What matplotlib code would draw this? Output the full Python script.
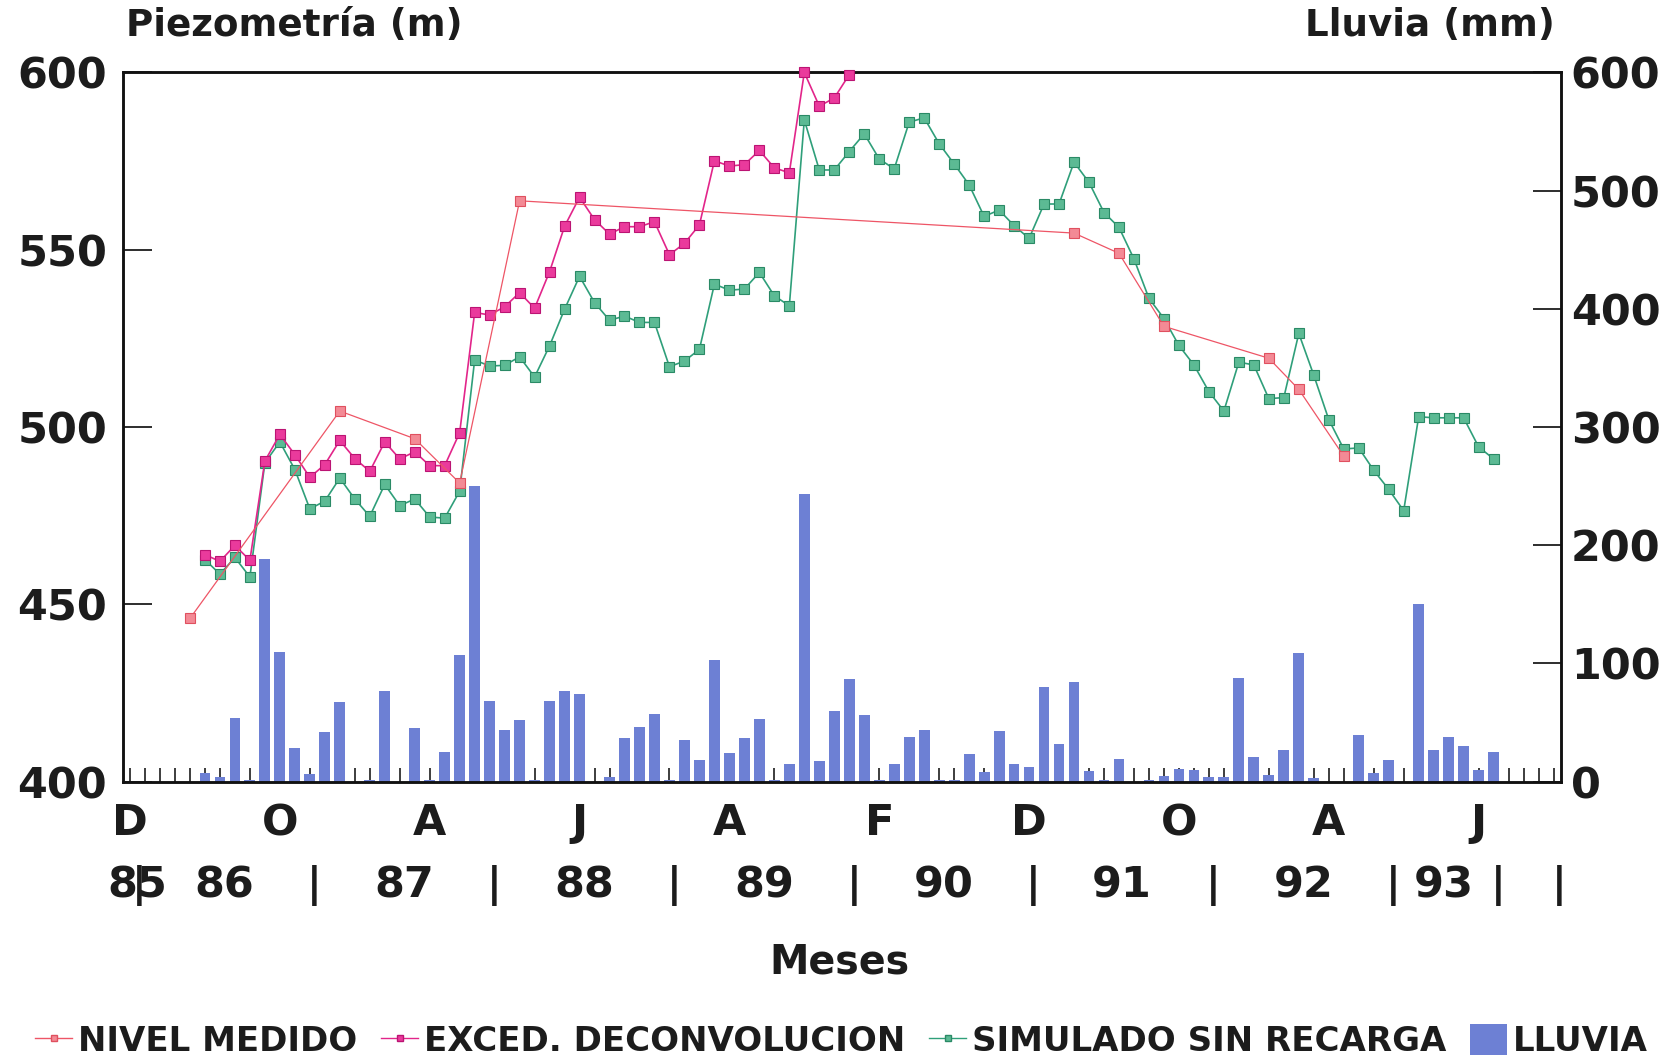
import matplotlib
matplotlib.use('Agg')
import matplotlib.pyplot as plt
import numpy as np
from matplotlib.lines import Line2D
from matplotlib.patches import Patch
from matplotlib import transforms

plt.rcParams['font.family'] = ['DejaVu Sans']
plt.rcParams['font.weight'] = 'bold'

# ---------------- data ----------------
# month index 0 = Dec 1985 (one category per month, 96 months)
n_months = 96
month_tick_pos = [0, 10, 20, 30, 40, 50, 60, 70, 80, 90]
month_tick_labels = ['D', 'O', 'A', 'J', 'A', 'F', 'D', 'O', 'A', 'J']

# rainfall (mm) per month index 0..95
lluvia = [0, 0, 0, 0, 0, 7, 4, 54, 1, 188,
          110, 28, 6, 42, 67, 0, 1.5, 77, 0, 45,
          1, 25, 107, 250, 68, 44, 52, 1, 68, 77,
          74, 0, 4, 37, 46, 57, 1, 35, 18, 103,
          24, 37, 53, 1, 15, 243, 17, 60, 87, 56,
          1, 15, 38, 44, 1, 1, 23, 8, 43, 15,
          12, 80, 32, 84, 9, 1, 19, 0, 1, 5,
          11, 10, 4, 3.5, 88, 21, 5.5, 26.5, 109, 3,
          0, 0, 39, 7.5, 18, 0, 150, 27, 38, 30,
          9.5, 25, 0, 0, 0, 0]

# measured level (m)
nivel_mes = [4, 14, 19, 22, 26, 63, 66, 69, 76, 78, 81]
nivel_val = [446.0, 504.5, 496.7, 484.2, 563.8, 554.7, 549.0, 528.4, 519.4, 510.6, 491.8]

# deconvolution excess (m), months 5..48
exced_start = 5
exced_val = [464.0, 462.1, 466.6, 462.4, 490.4, 497.9, 492.2, 485.8, 489.4, 496.2,
             491.1, 487.5, 495.8, 491.0, 493.0, 489.1, 489.1, 498.4,
             532.3, 531.6, 533.9, 537.9, 533.5, 543.8, 556.6, 564.8, 558.5, 554.4,
             556.5, 556.5, 557.9, 548.6, 551.8, 557.0, 575.1, 573.6, 574.0, 578.0,
             573.1, 571.7, 600.0, 590.5, 592.8, 599.4]

# simulated without recharge (m), months 5..91
simul_start = 5
simul_val = [462.6, 458.5, 463.2, 457.7, 489.9, 495.8, 488.0, 476.9, 479.1, 485.6,
             479.7, 474.8, 483.8, 477.8, 479.7, 474.6, 474.3, 481.9,
             518.9, 517.2, 517.4, 519.8, 514.1, 522.9, 533.2, 542.5, 535.1, 530.1,
             531.3, 529.5, 529.5, 517.0, 518.6, 521.9, 540.3, 538.6, 538.9, 543.6,
             537.0, 534.2,
             586.6, 572.5, 572.5, 577.7, 582.7, 575.6, 572.8, 586.0, 587.2, 579.9,
             574.2, 568.3, 559.4, 561.2, 556.8, 553.2, 562.9, 562.9, 574.7, 569.0,
             560.5, 556.3, 547.4, 536.3, 530.6, 523.0, 517.5, 510.0, 504.5, 518.3,
             517.5, 508.0, 508.3, 526.4, 514.6, 502.1, 493.8, 494.1, 487.8, 482.4,
             476.4, 502.9, 502.6, 502.6, 502.6, 494.4, 491.0]

# year row of the x axis: text and its position in month units
year_txt = ['85', '|', '86', '|', '87', '|', '88', '|', '89', '|', '90', '|',
            '91', '|', '92', '|', '93', '|', '|']
year_pos = [0.5, 0.62, 6.3, 12.3, 18.3, 24.3, 30.3, 36.3, 42.3, 48.3, 54.3, 60.3,
            66.2, 72.3, 78.3, 84.3, 87.7, 91.3, 95.4]

# ---------------- style ----------------
txt = '#1c1c1c'
bar_c = '#6d80d4'
red_l, red_f, red_e = '#ee5566', '#f38a95', '#e0505f'
mag_l, mag_f, mag_e = '#e2258a', '#ea3a9c', '#bb1473'
grn_l, grn_f, grn_e = '#2f9f7a', '#5cba94', '#2a8a66'

fig = plt.figure(figsize=(16.76, 10.58), dpi=100)
ax = fig.add_axes([0.0731, 0.2613, 0.8583, 0.6702])
tw = ax.twinx()

# bars (rain) on back axis
x_all = np.arange(n_months)
ax.bar(x_all, lluvia, width=0.72, color=bar_c, zorder=1)
ax.set_ylim(0, 600)
ax.set_xlim(-0.5, n_months - 0.5)
ax.set_axisbelow(True)

# lines on front axis
xs = np.arange(simul_start, simul_start + len(simul_val))
tw.plot(xs, simul_val, color=grn_l, lw=1.2, marker='s', ms=6.5, mfc=grn_f, mec=grn_e,
        mew=0.8, clip_on=False, zorder=3)
xe = np.arange(exced_start, exced_start + len(exced_val))
tw.plot(xe, exced_val, color=mag_l, lw=1.2, marker='s', ms=6.5, mfc=mag_f, mec=mag_e,
        mew=0.8, clip_on=False, zorder=4)
tw.plot(nivel_mes, nivel_val, color=red_l, lw=0.9, marker='s', ms=6.5, mfc=red_f, mec=red_e,
        mew=0.8, clip_on=False, zorder=5)
tw.set_ylim(400, 600)

# axes placement of y ticks
ax.yaxis.set_ticks_position('right')
tw.yaxis.set_ticks_position('left')
ax.set_yticks([0, 100, 200, 300, 400, 500, 600])
tw.set_yticks([400, 450, 500, 550, 600])
ax.tick_params(axis='y', direction='in', length=20, width=1.3, labelsize=31,
               pad=7, colors=txt, labelright=True, labelleft=False)
tw.tick_params(axis='y', direction='in', length=21, width=1.3, labelsize=31,
               pad=11, colors=txt, labelleft=True, labelright=False)

ax.set_xticks(month_tick_pos)
ax.set_xticklabels(month_tick_labels)
ax.set_xticks(x_all, minor=True)
ax.tick_params(axis='x', which='both', direction='in', length=10, width=1.2,
               colors=txt, labelsize=31, pad=15)

for a in (ax, tw):
    for s in a.spines.values():
        s.set_linewidth(1.8)
        s.set_color('#111111')

for lab in ax.get_xticklabels() + ax.get_yticklabels() + tw.get_yticklabels():
    lab.set_fontweight('bold')

# year row
trans = transforms.blended_transform_factory(ax.transData, fig.transFigure)
for t, p in zip(year_txt, year_pos):
    fig.text(p, 0.1626, t, transform=trans, ha='center', va='center',
             fontsize=31 if t != '|' else 29, fontweight='bold', color=txt)

fig.text(0.501, 0.0898, 'Meses', ha='center', va='center', fontsize=28.5,
         fontweight='bold', color=txt)
fig.text(0.0752, 0.9757, 'Piezometría (m)', ha='left', va='center', fontsize=26.8,
         fontweight='bold', color=txt)
fig.text(0.928, 0.9757, 'Lluvia (mm)', ha='right', va='center', fontsize=26.8,
         fontweight='bold', color=txt)

handles = [
    Line2D([], [], color=red_l, lw=1, marker='s', ms=5, mfc=red_f, mec=red_e),
    Line2D([], [], color=mag_l, lw=1, marker='s', ms=5, mfc=mag_f, mec=mag_e),
    Line2D([], [], color=grn_l, lw=1, marker='s', ms=5, mfc=grn_f, mec=grn_e),
    Patch(facecolor=bar_c, edgecolor='none'),
]
labels = ['NIVEL MEDIDO', 'EXCED. DECONVOLUCION', 'SIMULADO SIN RECARGA', 'LLUVIA']
leg = fig.legend(handles, labels, loc='center', bbox_to_anchor=(0.502, 0.016), ncol=4,
                 frameon=False, prop=dict(weight='bold', size=24.5),
                 handlelength=1.1, handleheight=1.0, handletextpad=0.16,
                 columnspacing=0.7, borderpad=0.0)
for t in leg.get_texts():
    t.set_color(txt)

fig.savefig('out.png', dpi=100, facecolor='white')
